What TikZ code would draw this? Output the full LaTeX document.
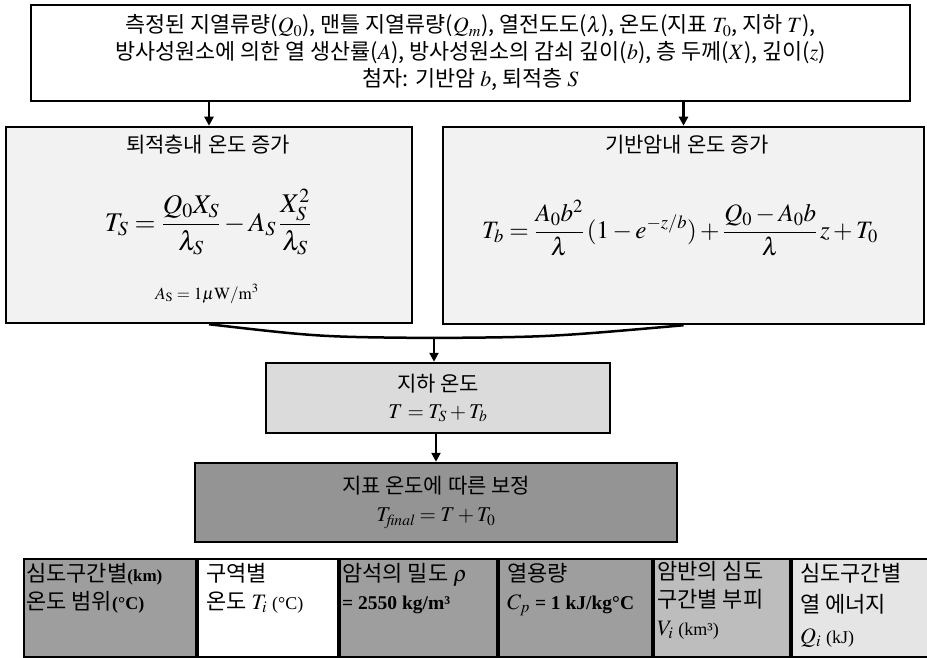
\documentclass[tikz,border=0pt]{standalone}
\usepackage{mathptmx}
\usepackage[no-math]{fontspec}
\setmainfont{Liberation Serif}
\newfontfamily\kr{Noto Sans CJK KR}
\usepackage{tikz}
\usetikzlibrary{arrows.meta, positioning}
\definecolor{lightfill}{gray}{0.95}
\definecolor{subfill}{gray}{0.86}
\definecolor{corrfill}{gray}{0.58}
\definecolor{cellfill}{gray}{0.62}
\definecolor{midfill}{gray}{0.74}
\definecolor{palefill}{gray}{0.9}

\begin{document}
\begin{tikzpicture}[
    x=1pt, y=-1pt,
    box/.style={rectangle, draw=black, line width=2.5pt, align=center, inner sep=2pt},
    label/.style={align=center, inner sep=1pt, font=\kr\fontsize{21}{26}\selectfont},
    cell/.style={rectangle, draw=black, line width=2pt, minimum height=98pt, inner sep=0pt},
    celltext/.style={align=left, anchor=north west, inner sep=0pt, font=\kr\fontsize{22}{28}\selectfont},
    link/.style={-{Triangle[length=9pt,width=9pt]}, line width=2.5pt},
    merge/.style={line width=2.5pt}
]
\useasboundingbox (0,0) rectangle (927,658);

% Input data
\node[box, fill=white, minimum width=879pt, minimum height=96pt,
      font=\kr\fontsize{21.8}{27}\selectfont] (input) at (470.5,53)
    {측정된 지열류량($Q_0$), 맨틀 지열류량($Q_m$), 열전도도($\lambda$), 온도(지표 $T_0$, 지하 $T$),\\
     방사성원소에 의한 열 생산률($A$), 방사성원소의 감쇠 깊이($b$), 층 두께($X$), 깊이($z$)\\
     첨자: 기반암 $b$, 퇴적층 $S$};

% Sediment layer
\node[box, fill=lightfill, minimum width=406pt, minimum height=196pt] (sed) at (209,225) {};
\node[label] (sedtitle) at (208,145) {퇴적층내 온도 증가};
\node[label, font=\fontsize{27}{30}\selectfont] (sedeq) at (208,222)
    {$\displaystyle T_S = \frac{Q_0 X_S}{\lambda_S} - A_S\,\frac{X_S^2}{\lambda_S}$};
\node[label, font=\fontsize{17}{22}\selectfont] (sedval) at (207,294)
    {$A_{\mathrm{S}} = 1\mu\mathrm{W/m^3}$};

% Basement rock
\node[box, fill=lightfill, minimum width=481pt, minimum height=197pt] (bas) at (683.5,225.5) {};
\node[label] (bastitle) at (687,145) {기반암내 온도 증가};
\node[label, font=\fontsize{25}{30}\selectfont] (baseq) at (680,228)
    {$\displaystyle T_b = \frac{A_0 b^2}{\lambda}\,(1 - e^{-z/b}) + \frac{Q_0 - A_0 b}{\lambda}\,z + T_0$};

\draw[link] (input.south -| sed.north) -- (sed.north);
\draw[link] (input.south -| bas.north) -- (bas.north);

% Merge of both layers
\coordinate (join) at (434,338);
\draw[merge] (sed.south) .. controls (320,337) .. (join);
\draw[merge] (bas.south) .. controls (550,337) .. (join);

% Subsurface temperature
\node[box, fill=subfill, minimum width=344pt, minimum height=70pt,
      font=\kr\fontsize{21}{27}\selectfont] (sub) at (438,398)
    {지하 온도\\$T = T_S + T_b$};
\draw[link] (join) -- (join |- sub.north);

% Surface correction
\node[box, fill=corrfill, minimum width=482pt, minimum height=79pt,
      font=\kr\fontsize{21}{28}\selectfont] (corr) at (436,502.5)
    {지표 온도에 따른 보정\\$T_{\mathit{final}} = T + T_0$};
\draw[link] (sub.south -| corr.north) -- (corr.north);

% Bottom table
\node[cell, fill=cellfill, minimum width=172pt, anchor=north west] (c1) at (23,558) {};
\node[cell, fill=white, minimum width=140pt, right=0pt of c1] (c2) {};
\node[cell, fill=cellfill, minimum width=157pt, right=0pt of c2] (c3) {};
\node[cell, fill=cellfill, minimum width=153pt, right=0pt of c3] (c4) {};
\node[cell, fill=midfill, minimum width=136pt, right=0pt of c4] (c5) {};
\node[cell, fill=palefill, minimum width=136pt, right=0pt of c5] (c6) {};

\node[celltext, below right=5pt and 3pt of c1.north west] (t1)
    {심도구간별{\rmfamily\bfseries\fontsize{17}{28}\selectfont(km)}\\온도 범위{\rmfamily\bfseries\fontsize{18}{28}\selectfont(°C)}};
\node[celltext, below right=5pt and 9pt of c2.north west] (t2)
    {구역별\\온도 $T_i$ {\rmfamily\fontsize{18}{28}\selectfont(°C)}};
\node[celltext, below right=5pt and 3pt of c3.north west] (t3)
    {암석의 밀도 $\rho$\\{\rmfamily\bfseries\fontsize{19.5}{28}\selectfont = 2550 kg/m³}};
\node[celltext, below right=5pt and 9pt of c4.north west] (t4)
    {열용량\\$C_p$ {\rmfamily\bfseries\fontsize{19.5}{28}\selectfont = 1 kJ/kg°C}};
\node[celltext, below right=3pt and 4pt of c5.north west] (t5)
    {암반의 심도\\구간별 부피\\$V_i$ {\rmfamily\fontsize{18}{28}\selectfont(km³)}};
\node[celltext, below right=5pt and 9pt of c6.north west, font=\kr\fontsize{22}{31}\selectfont] (t6)
    {심도구간별\\열 에너지\\$Q_i$ {\rmfamily\fontsize{18}{31}\selectfont(kJ)}};
\end{tikzpicture}
\end{document}
